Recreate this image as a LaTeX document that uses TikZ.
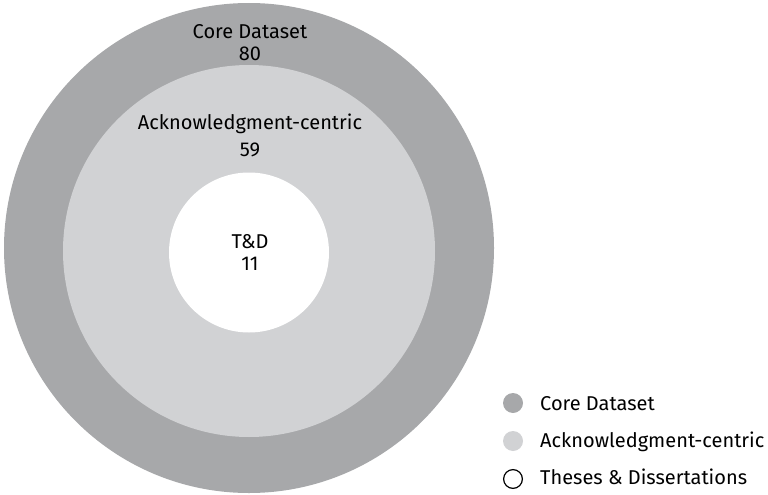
\documentclass[tikz,border=0pt]{standalone}
\usepackage{fontspec}
\setmainfont{Fira Sans}
\usepackage{tikz}
\usetikzlibrary{positioning}

\definecolor{coregray}{HTML}{A7A8AA}
\definecolor{ackgray}{HTML}{D1D2D4}

\tikzset{
  lbl/.style={anchor=base, font=\fontsize{20}{24}\selectfont, inner sep=0pt},
  legtext/.style={anchor=base west, font=\fontsize{20}{24}\selectfont, inner sep=0pt}
}

\begin{document}
\begin{tikzpicture}[x=1pt,y=-1pt]
    \useasboundingbox (0,0) rectangle (768,495);

    \fill[coregray] (249,248) circle (245);
    \fill[ackgray] (249,251) circle (186);
    \fill[white] (249,252.5) circle (80);

    \node[lbl] (coretitle) at (250,38) {Core Dataset};
    \node[lbl] (corenum) at (250,61) {80};

    \node[lbl] (acktitle) at (250,129) {Acknowledgment-centric};
    \node[lbl] (acknum) at (250,156) {59};

    \node[lbl] (tdtitle) at (250,248) {T\&D};
    \node[lbl] (tdnum) at (250,270) {11};

    % legend
    \fill[coregray] (513,403) circle (10);
    \fill[ackgray] (513,441) circle (10);
    \draw[line width=1.2pt] (513,479) circle (9.4);

    \node[legtext] (legcore) at (540,410) {Core Dataset};
    \node[legtext] (legack) at (540,447) {Acknowledgment-centric};
    \node[legtext] (legtd) at (540,484) {Theses \& Dissertations};
\end{tikzpicture}
\end{document}
